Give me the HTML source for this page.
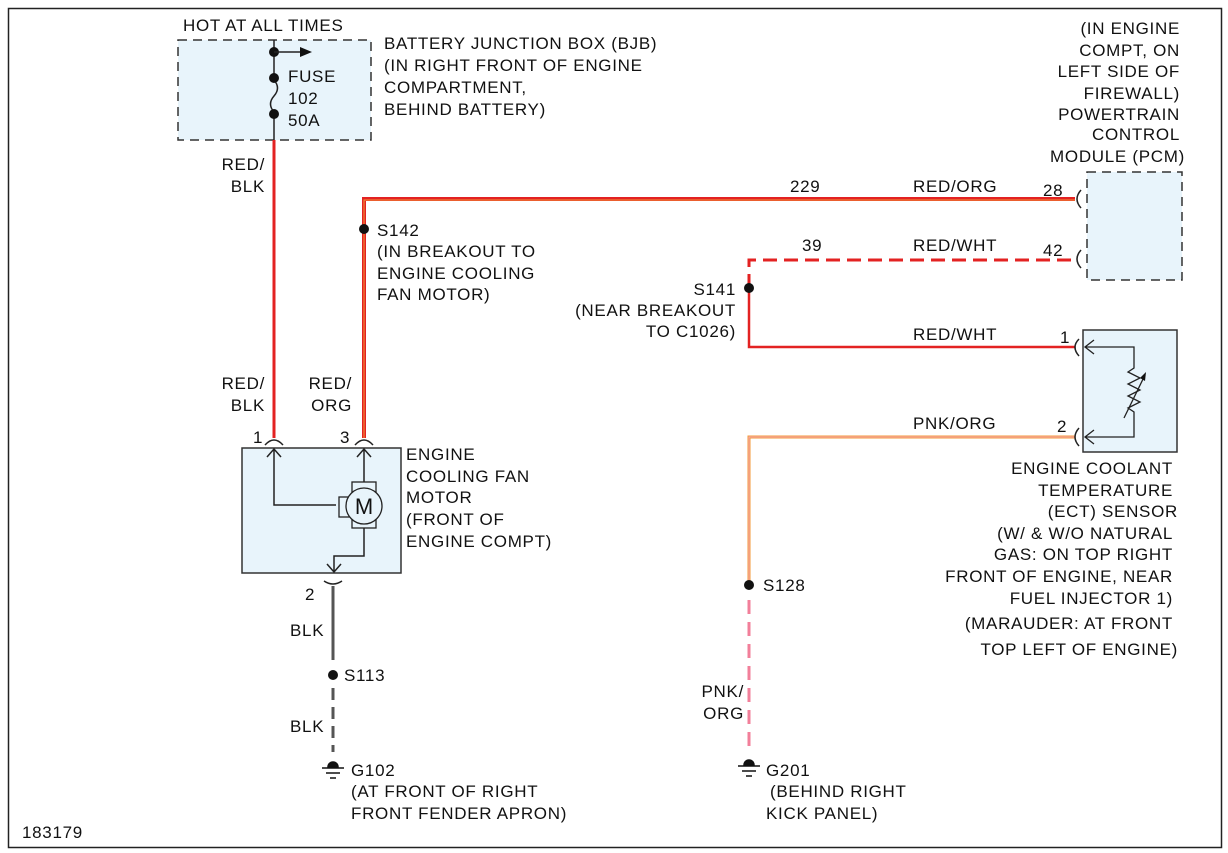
<!DOCTYPE html>
<html><head><meta charset="utf-8"><style>
html,body{margin:0;padding:0;background:#fff}
svg{display:block}
text{font-family:"Liberation Sans",sans-serif;font-size:17px;fill:#111;letter-spacing:0.7px}
</style></head><body>
<svg width="1228" height="853" viewBox="0 0 1228 853" xmlns="http://www.w3.org/2000/svg">
<rect x="8.5" y="8.5" width="1213" height="839" fill="none" stroke="#222" stroke-width="1.5"/>

<!-- BJB -->
<rect x="178" y="40" width="193" height="100" fill="#e8f4fb" stroke="#333" stroke-width="1.5" stroke-dasharray="9,6"/>
<line x1="274" y1="40" x2="274" y2="140" stroke="#222" stroke-width="1.5"/>
<line x1="274" y1="78" x2="274" y2="114" stroke="#e8f4fb" stroke-width="3"/>
<path d="M274 80 Q281 88 274 96 Q267 104 274 112" fill="none" stroke="#222" stroke-width="1.5"/>
<circle cx="274" cy="52" r="5" fill="#111"/>
<circle cx="274" cy="78" r="5" fill="#111"/>
<circle cx="274" cy="114" r="5" fill="#111"/>
<line x1="274" y1="52" x2="306" y2="52" stroke="#222" stroke-width="1.5"/>
<path d="M300 47 L312 52 L300 57 Z" fill="#111"/>
<text x="183" y="31">HOT AT ALL TIMES</text>
<text x="288" y="82">FUSE</text><text x="288" y="104">102</text><text x="288" y="126">50A</text>
<text x="384" y="49">BATTERY JUNCTION BOX (BJB)</text>
<text x="384" y="71">(IN RIGHT FRONT OF ENGINE</text>
<text x="384" y="93">COMPARTMENT,</text>
<text x="384" y="115">BEHIND BATTERY)</text>

<!-- RED/BLK wire -->
<line x1="274" y1="140" x2="274" y2="438" stroke="#e32222" stroke-width="3"/>
<text x="265" y="170" text-anchor="end">RED/</text><text x="265" y="192" text-anchor="end">BLK</text>
<text x="265" y="389" text-anchor="end">RED/</text><text x="265" y="411" text-anchor="end">BLK</text>

<!-- RED/ORG wire -->
<path d="M364 438 V199 H1075" fill="none" stroke="#e32222" stroke-width="4"/>
<path d="M364 438 V200 H1075" fill="none" stroke="#f39a3a" stroke-width="1"/>
<circle cx="364" cy="229" r="5" fill="#111"/>
<text x="377" y="236">S142</text>
<text x="377" y="257">(IN BREAKOUT TO</text>
<text x="377" y="279">ENGINE COOLING</text>
<text x="377" y="300">FAN MOTOR)</text>
<text x="352" y="389" text-anchor="end">RED/</text><text x="352" y="411" text-anchor="end">ORG</text>
<text x="790" y="192">229</text><text x="913" y="192">RED/ORG</text><text x="1043" y="196">28</text>

<!-- RED/WHT -->
<path d="M749 288 V260 H1075" fill="none" stroke="#e32222" stroke-width="3" stroke-dasharray="14,7"/>
<path d="M749 288 V347 H1075" fill="none" stroke="#e32222" stroke-width="2.5"/>
<circle cx="749" cy="288" r="5" fill="#111"/>
<text x="802" y="251">39</text><text x="913" y="251">RED/WHT</text><text x="1043" y="256">42</text>
<text x="736" y="295" text-anchor="end">S141</text>
<text x="736" y="316" text-anchor="end">(NEAR BREAKOUT</text>
<text x="736" y="337" text-anchor="end">TO C1026)</text>
<text x="913" y="340">RED/WHT</text><text x="1060" y="343">1</text>

<!-- PNK/ORG -->
<path d="M749 585 V437 H1075" fill="none" stroke="#f39a3a" stroke-width="3"/>
<path d="M749 585 V437 H1075" fill="none" stroke="#f7a8b8" stroke-width="1"/>
<line x1="749" y1="600" x2="749" y2="752" stroke="#f27f9a" stroke-width="3" stroke-dasharray="14,8"/>
<circle cx="749" cy="585" r="5" fill="#111"/>
<text x="763" y="591">S128</text>
<text x="913" y="429">PNK/ORG</text><text x="1057" y="432">2</text>
<text x="744" y="697" text-anchor="end">PNK/</text><text x="744" y="719" text-anchor="end">ORG</text>

<!-- PCM -->
<rect x="1087" y="172" width="95" height="108" fill="#e8f4fb" stroke="#333" stroke-width="1.5" stroke-dasharray="9,6"/>
<path d="M1081 190 Q1073 199 1081 208" fill="none" stroke="#222" stroke-width="1.5"/>
<path d="M1081 250 Q1073 259 1081 268" fill="none" stroke="#222" stroke-width="1.5"/>
<g text-anchor="end">
<text x="1180" y="34">(IN ENGINE</text><text x="1180" y="56">COMPT, ON</text><text x="1180" y="77">LEFT SIDE OF</text>
<text x="1180" y="99">FIREWALL)</text><text x="1180" y="120">POWERTRAIN</text><text x="1180" y="140">CONTROL</text>
<text x="1185" y="162">MODULE (PCM)</text>
</g>

<!-- ECT -->
<rect x="1083" y="330" width="94" height="122" fill="#e8f4fb" stroke="#333" stroke-width="1.5"/>
<path d="M1079 339 Q1071 347 1079 356" fill="none" stroke="#222" stroke-width="1.5"/>
<path d="M1079 428 Q1071 437 1079 446" fill="none" stroke="#222" stroke-width="1.5"/>
<path d="M1094 340 L1085 347 L1094 354 M1085 347 H1134 V368 L1128 372 L1140 378 L1128 384 L1140 390 L1128 396 L1140 402 L1128 408 L1134 412 V437 H1085 M1094 430 L1085 437 L1094 444" fill="none" stroke="#222" stroke-width="1.3"/>
<path d="M1124 418 L1145 375" stroke="#222" stroke-width="1.3"/>
<path d="M1146 372 L1140 378 L1145 381 Z" fill="#111"/>
<g text-anchor="end">
<text x="1173" y="474">ENGINE COOLANT</text><text x="1173" y="496">TEMPERATURE</text><text x="1178" y="517">(ECT) SENSOR</text>
<text x="1173" y="539">(W/ &amp; W/O NATURAL</text><text x="1173" y="560">GAS: ON TOP RIGHT</text>
<text x="1173" y="582">FRONT OF ENGINE, NEAR</text><text x="1173" y="604">FUEL INJECTOR 1)</text>
<text x="1173" y="629">(MARAUDER: AT FRONT</text><text x="1178" y="655">TOP LEFT OF ENGINE)</text>
</g>

<!-- Fan motor -->
<rect x="242" y="448" width="159" height="125" fill="#e8f4fb" stroke="#333" stroke-width="1.5"/>
<path d="M265 445 Q274 435 283 445 M355 445 Q364 435 373 445" fill="none" stroke="#222" stroke-width="1.5"/>
<text x="253" y="443">1</text><text x="340" y="443">3</text>
<path d="M267 457 L274 449 L281 457 M274 449 V505 H336 M357 457 L364 449 L371 457 M364 449 V482" fill="none" stroke="#222" stroke-width="1.5"/>
<rect x="352" y="482" width="24" height="10" fill="#e8f4fb" stroke="#222" stroke-width="1.3"/>
<rect x="352" y="518" width="24" height="10" fill="#e8f4fb" stroke="#222" stroke-width="1.3"/>
<rect x="339" y="497" width="12" height="20" fill="#e8f4fb" stroke="#222" stroke-width="1.3"/>
<circle cx="364" cy="506" r="18" fill="#e8f4fb" stroke="#222" stroke-width="1.3"/>
<text x="364" y="514" text-anchor="middle" style="font-size:22px;letter-spacing:0">M</text>
<path d="M364 528 V556 H334 V572 M327 564 L334 572 L341 564" fill="none" stroke="#222" stroke-width="1.5"/>
<path d="M324 581 Q333 587 342 581" fill="none" stroke="#222" stroke-width="1.5"/>
<text x="406" y="460">ENGINE</text><text x="406" y="482">COOLING FAN</text><text x="406" y="503">MOTOR</text>
<text x="406" y="525">(FRONT OF</text><text x="406" y="547">ENGINE COMPT)</text>

<!-- BLK -->
<text x="305" y="600">2</text>
<line x1="333" y1="586" x2="333" y2="660" stroke="#555" stroke-width="3"/>
<line x1="333" y1="688" x2="333" y2="752" stroke="#555" stroke-width="3" stroke-dasharray="12,7"/>
<circle cx="333" cy="675" r="5" fill="#111"/>
<text x="344" y="681">S113</text>
<text x="290" y="636">BLK</text><text x="290" y="732">BLK</text>

<!-- grounds -->
<g fill="#111" stroke="#111" stroke-width="1.5">
<path d="M328 767 A5 5 0 0 1 338 767 Z"/>
<line x1="322" y1="768" x2="344" y2="768"/><line x1="326" y1="773" x2="340" y2="773"/><line x1="330" y1="778" x2="336" y2="778"/>
<path d="M744 765 A5 5 0 0 1 754 765 Z"/>
<line x1="738" y1="766" x2="760" y2="766"/><line x1="742" y1="771" x2="756" y2="771"/><line x1="746" y1="776" x2="752" y2="776"/>
</g>
<text x="351" y="776">G102</text>
<text x="351" y="797">(AT FRONT OF RIGHT</text>
<text x="351" y="819">FRONT FENDER APRON)</text>
<text x="766" y="776">G201</text>
<text x="770" y="797">(BEHIND RIGHT</text>
<text x="766" y="819">KICK PANEL)</text>

<text x="22" y="838">183179</text>
</svg>
</body></html>
